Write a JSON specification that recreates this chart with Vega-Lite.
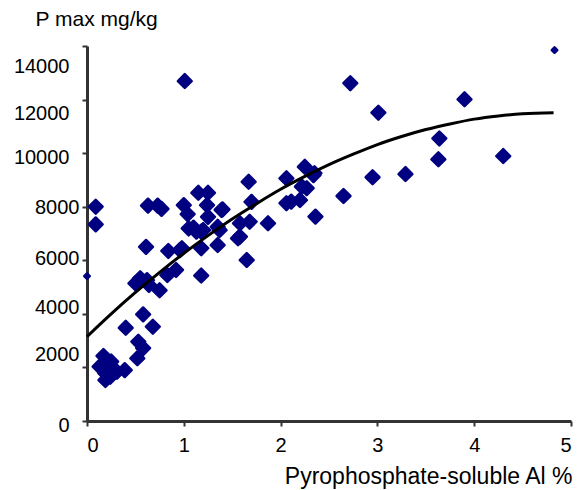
{
  "$schema": "https://vega.github.io/schema/vega-lite/v6.json",
  "width": 484,
  "height": 375,
  "autosize": {"type": "none"},
  "padding": {"left": 87, "top": 46, "right": 6, "bottom": 69},
  "config": {
    "view": {"stroke": null},
    "font": "Liberation Sans",
    "axis": {"grid": false, "domain": true, "ticks": true, "domainColor": "#333333", "domainWidth": 3, "tickColor": "#333333", "tickWidth": 2, "tickSize": 5, "labelColor": "black", "titleColor": "black", "labelFont": "Liberation Sans", "titleFont": "Liberation Sans", "labelFontSize": 20, "titleFontWeight": "normal"}
  },
  "datasets": {
    "obs": [
      {"al": 0.09, "p": 8000, "series": "main"},
      {"al": 0.09, "p": 7340, "series": "main"},
      {"al": 0.0, "p": 5410, "series": "edge"},
      {"al": 0.63, "p": 8040, "series": "main"},
      {"al": 0.73, "p": 8040, "series": "main"},
      {"al": 0.77, "p": 7920, "series": "main"},
      {"al": 0.61, "p": 6500, "series": "main"},
      {"al": 1.0, "p": 8060, "series": "main"},
      {"al": 1.04, "p": 7720, "series": "main"},
      {"al": 1.15, "p": 8520, "series": "main"},
      {"al": 1.25, "p": 8520, "series": "main"},
      {"al": 1.24, "p": 8060, "series": "main"},
      {"al": 1.25, "p": 7620, "series": "main"},
      {"al": 1.4, "p": 7900, "series": "main"},
      {"al": 1.1, "p": 7220, "series": "main"},
      {"al": 1.18, "p": 7070, "series": "main"},
      {"al": 1.35, "p": 7250, "series": "main"},
      {"al": 1.35, "p": 6570, "series": "main"},
      {"al": 1.18, "p": 6450, "series": "main"},
      {"al": 0.84, "p": 6350, "series": "main"},
      {"al": 0.98, "p": 6450, "series": "main"},
      {"al": 0.92, "p": 5640, "series": "main"},
      {"al": 0.83, "p": 5450, "series": "main"},
      {"al": 1.18, "p": 5430, "series": "main"},
      {"al": 1.58, "p": 6880, "series": "main"},
      {"al": 1.65, "p": 6010, "series": "main"},
      {"al": 1.67, "p": 8930, "series": "main"},
      {"al": 1.7, "p": 8180, "series": "main"},
      {"al": 0.55, "p": 5330, "series": "main"},
      {"al": 0.5, "p": 5140, "series": "main"},
      {"al": 0.62, "p": 5260, "series": "main"},
      {"al": 0.53, "p": 5180, "series": "main"},
      {"al": 0.64, "p": 5080, "series": "main"},
      {"al": 0.75, "p": 4880, "series": "main"},
      {"al": 0.58, "p": 3980, "series": "main"},
      {"al": 0.4, "p": 3480, "series": "main"},
      {"al": 0.68, "p": 3520, "series": "main"},
      {"al": 0.53, "p": 2960, "series": "main"},
      {"al": 0.58, "p": 2720, "series": "main"},
      {"al": 0.52, "p": 2340, "series": "main"},
      {"al": 0.17, "p": 2430, "series": "main"},
      {"al": 0.25, "p": 2220, "series": "main"},
      {"al": 0.13, "p": 2030, "series": "main"},
      {"al": 0.22, "p": 2030, "series": "main"},
      {"al": 0.19, "p": 1780, "series": "main"},
      {"al": 0.31, "p": 1840, "series": "main"},
      {"al": 0.39, "p": 1900, "series": "main"},
      {"al": 0.19, "p": 1530, "series": "main"},
      {"al": 0.24, "p": 1650, "series": "main"},
      {"al": 2.06, "p": 9060, "series": "main"},
      {"al": 2.25, "p": 9490, "series": "main"},
      {"al": 2.34, "p": 9180, "series": "main"},
      {"al": 2.65, "p": 8400, "series": "main"},
      {"al": 2.36, "p": 7630, "series": "main"},
      {"al": 2.06, "p": 8130, "series": "main"},
      {"al": 2.11, "p": 8190, "series": "main"},
      {"al": 2.2, "p": 8250, "series": "main"},
      {"al": 2.27, "p": 8690, "series": "main"},
      {"al": 2.22, "p": 8750, "series": "main"},
      {"al": 1.87, "p": 7380, "series": "main"},
      {"al": 1.58, "p": 7380, "series": "main"},
      {"al": 1.68, "p": 7440, "series": "main"},
      {"al": 1.56, "p": 6820, "series": "main"},
      {"al": 1.37, "p": 7130, "series": "main"},
      {"al": 1.39, "p": 7880, "series": "main"},
      {"al": 1.2, "p": 7130, "series": "main"},
      {"al": 1.13, "p": 7070, "series": "main"},
      {"al": 1.05, "p": 7190, "series": "main"},
      {"al": 0.96, "p": 6380, "series": "main"},
      {"al": 1.01, "p": 12690, "series": "main"},
      {"al": 2.72, "p": 12610, "series": "main"},
      {"al": 3.01, "p": 11510, "series": "main"},
      {"al": 3.9, "p": 12010, "series": "main"},
      {"al": 3.64, "p": 10550, "series": "main"},
      {"al": 3.63, "p": 9770, "series": "main"},
      {"al": 4.3, "p": 9890, "series": "main"},
      {"al": 3.29, "p": 9220, "series": "main"},
      {"al": 2.95, "p": 9100, "series": "main"},
      {"al": 2.35, "p": 9250, "series": "main"},
      {"al": 4.83, "p": 13850, "series": "edge"}
    ],
    "fit": [
      {"al": 0.0, "p": 3150},
      {"al": 0.25, "p": 4000},
      {"al": 0.5, "p": 4800},
      {"al": 0.75, "p": 5550},
      {"al": 1.0, "p": 6260},
      {"al": 1.25, "p": 6920},
      {"al": 1.5, "p": 7540},
      {"al": 1.75, "p": 8110},
      {"al": 2.0, "p": 8650},
      {"al": 2.25, "p": 9130},
      {"al": 2.5, "p": 9570},
      {"al": 2.75, "p": 9960},
      {"al": 3.0, "p": 10320},
      {"al": 3.25, "p": 10620},
      {"al": 3.5, "p": 10880},
      {"al": 3.75, "p": 11090},
      {"al": 4.0, "p": 11270},
      {"al": 4.25, "p": 11390},
      {"al": 4.5, "p": 11470},
      {"al": 4.82, "p": 11510}
    ]
  },
  "encoding": {
    "x": {"field": "al", "type": "quantitative", "scale": {"domain": [0, 5], "nice": false, "zero": false},
      "axis": {"values": [0, 1, 2, 3, 4, 5], "title": "Pyrophosphate-soluble Al %", "titleFontSize": 23, "labelPadding": 9, "titleAnchor": "end", "titleAlign": "right", "titleX": 485, "titleY": 62, "titleBaseline": "alphabetic"}},
    "y": {"field": "p", "type": "quantitative", "scale": {"domain": [0, 14000], "nice": false},
      "axis": {"values": [0, 2000, 4000, 6000, 8000, 10000, 12000, 14000], "format": "d", "title": "P max mg/kg", "titleFontSize": 21, "titleAngle": 0, "titleAlign": "left", "titleBaseline": "alphabetic", "titleX": -52, "titleY": -21, "labelPadding": {"expr": "datum.value >= 10000 || datum.value == 0 ? 13 : 3"}, "labelOffset": {"expr": "datum.value == 14000 ? 20 : datum.value == 12000 ? 14 : datum.value == 10000 ? 4 : datum.value == 6000 ? -2 : datum.value == 4000 ? -6 : datum.value == 2000 ? -13 : datum.value == 0 ? 4 : 1"}}}
  },
  "layer": [
    {
      "data": {"name": "obs"},
      "mark": {"type": "point", "shape": "diamond", "filled": true, "opacity": 1, "color": "#000080", "stroke": "#000080", "strokeWidth": 2.5, "strokeJoin": "round"},
      "encoding": {
        "size": {"field": "series", "type": "nominal", "scale": {"domain": ["main", "edge"], "range": [190, 30]}, "legend": null}
      }
    },
    {
      "data": {"name": "fit"},
      "mark": {"type": "line", "color": "black", "strokeWidth": 3, "interpolate": "monotone"},
      "encoding": {}
    }
  ]
}
